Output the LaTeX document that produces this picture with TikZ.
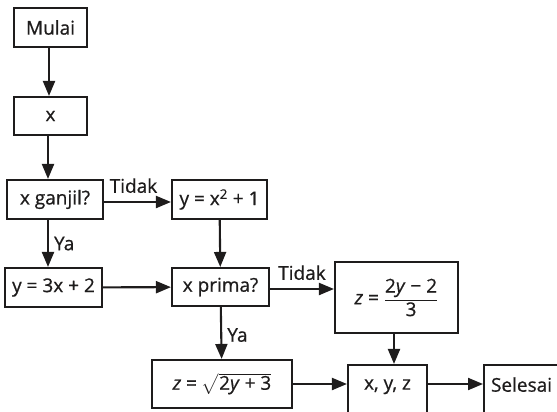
\documentclass[tikz,border=0pt]{standalone}
\usepackage{amsmath}
\usepackage{fontspec}
\setmainfont[FakeBold=0.7]{Open Sans}
\usepackage{tikz}
\usetikzlibrary{arrows.meta, positioning, calc}
\definecolor{InkDark}{RGB}{30,28,28}

\begin{document}
\begin{tikzpicture}[x=1pt,y=-1pt,
        box/.style={draw=InkDark,line width=2.1pt,inner sep=0pt,
                    font=\fontsize{19}{23}\selectfont,text=InkDark},
        flow/.style={draw=InkDark,line width=2.1pt,
                     -{Triangle[length=15pt,width=12pt]}},
        lbl/.style={font=\fontsize{19}{23}\selectfont,text=InkDark,inner sep=1pt}
      ]
        \useasboundingbox (0,0) rectangle (557,412);
        \clip (0,0) rectangle (557,412);
        \node[box,minimum width=73pt,minimum height=39pt] (mulai) at (50.5,27.5) {Mulai};
        \node[box,minimum width=73pt,minimum height=38pt] (xin) at (50.5,116) {x};
        \node[box,minimum width=96pt,minimum height=39pt] (ganjil) at (55,199.5) {x ganjil?};
        \node[box,minimum width=95pt,minimum height=39pt] (ykuad) at (219.5,199.5) {y = x\textsuperscript{2} + 1};
        \node[box,minimum width=97pt,minimum height=39pt] (ylin) at (53.5,287.5) {y = 3x + 2};
        \node[box,minimum width=97pt,minimum height=38pt] (prima) at (220.5,287) {x prima?};
        \node[box,minimum width=123pt,minimum height=71pt] (zfrac) at (396.5,297.5)
          {\textit{z} = $\dfrac{\mbox{2\textit{y} − 2}}{\mbox{3}}$};
        \node[box,minimum width=140pt,minimum height=48pt] (zsqrt) at (222,384)
          {\textit{z} = $\sqrt{\mbox{2\textit{y} + 3}}$};
        \node[box,minimum width=79pt,minimum height=60pt,text depth=21pt] (hasil) at (387.5,395) {x, y, z};
        \node[box,minimum width=100pt,minimum height=60pt,text depth=21pt,
              anchor=west,text width=86pt,align=left] (selesai) at (483,395) {Selesai};

        \draw[flow] (mulai.south -| 49,0) -- (xin.north -| 49,0);
        \draw[flow] (xin.south -| 48,0) -- (ganjil.north -| 48,0);
        \draw[flow] (ganjil.east |- 0,202) -- node[lbl,above=7pt,xshift=-4pt] {Tidak} (ykuad.west |- 0,202);
        \draw[flow] (ganjil.south -| 48,0) -- node[lbl,right=4pt] {Ya} (ylin.north -| 48,0);
        \draw[flow] (ykuad) -- (prima);
        \draw[flow] (ylin) -- (prima);
        \draw[flow] (prima.east |- 0,289) -- node[lbl,above=7pt] {Tidak} (zfrac.west |- 0,289);
        \draw[flow] (prima) -- node[lbl,right=4pt,yshift=-2pt] {Ya} (zsqrt);
        \draw[flow] (zfrac.south -| 394,0) -- (hasil.north -| 394,0);
        \draw[flow] (zsqrt) -- (zsqrt -| hasil.west);
        \draw[flow] (hasil.east |- zsqrt) -- (selesai.west |- zsqrt);
      \end{tikzpicture}
\end{document}
